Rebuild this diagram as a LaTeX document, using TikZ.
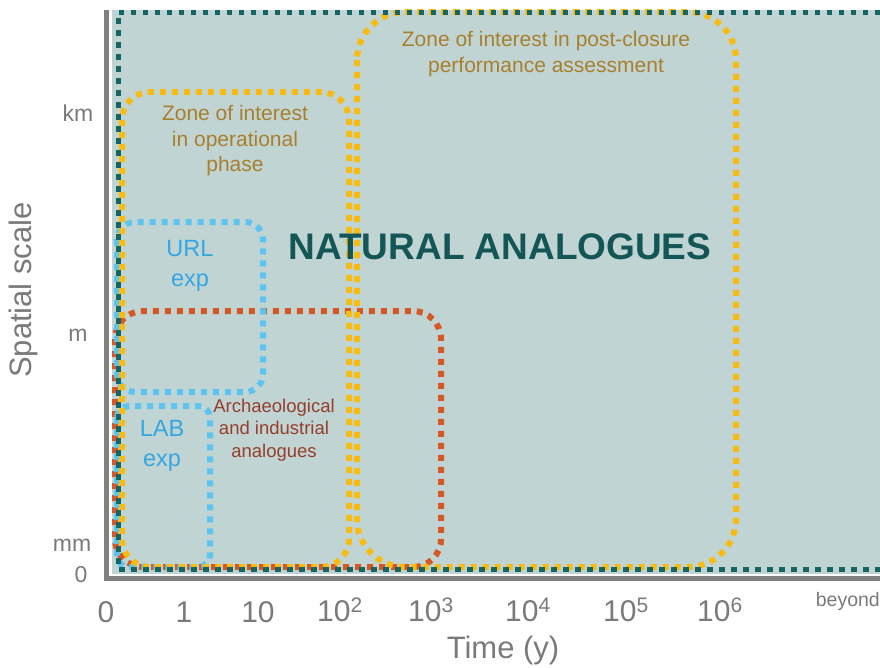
\documentclass[tikz,border=0pt]{standalone}
\usepackage{fontspec}
\setmainfont{Liberation Sans}
\usetikzlibrary{positioning}

\definecolor{tealz}{RGB}{22,101,99}
\definecolor{tealtext}{RGB}{20,86,86}
\definecolor{bgz}{RGB}{193,212,212}
\definecolor{yellowz}{RGB}{247,187,18}
\definecolor{bluez}{RGB}{92,196,240}
\definecolor{redz}{RGB}{214,86,36}
\definecolor{axisgray}{RGB}{128,128,128}
\definecolor{labelgray}{RGB}{122,122,122}
\definecolor{zonetext}{RGB}{168,128,44}
\definecolor{archtext}{RGB}{150,62,44}
\definecolor{exptext}{RGB}{52,166,226}

\begin{document}
\begin{tikzpicture}[
  x=1pt, y=-1pt,
  zone/.style={line width=6pt, dash pattern=on 6pt off 6pt, rounded corners=#1},
  zone/.default=20pt,
  axis/.style={draw=axisgray, line width=5pt},
  ticklbl/.style={text=labelgray, font=\fontsize{30}{34}\selectfont, inner sep=0pt},
  scalelbl/.style={text=labelgray, font=\fontsize{23}{26}\selectfont, inner sep=0pt},
  zonelbl/.style={text=zonetext, align=center, font=\fontsize{21}{25.5}\selectfont, inner sep=0pt},
  explbl/.style={text=exptext, align=center, font=\fontsize{23.5}{30}\selectfont, inner sep=0pt}
]
\useasboundingbox (0,0) rectangle (880,667);

% background and frame
\fill[bgz] (112,10) rectangle (880,574);
\draw[axis] (106,10) -- (106,578) -- (880,578);

% zones
\draw[zone=28pt, draw=redz] (115,311) rectangle (441,567);
\draw[zone=18pt, draw=bluez] (117,222) rectangle (263,392);
\draw[zone=12pt, draw=bluez] (117,406) rectangle (210,567);
\draw[zone=28pt, draw=yellowz] (122,92) rectangle (349,567);
\draw[zone=48pt, draw=yellowz] (357,12) rectangle (736,567);
\draw[line width=5pt, dash pattern=on 5.5pt off 6.5pt, draw=tealz]
  (880,12) -- (118,12) -- (118,569) -- (880,569);

% labels
\node[text=tealtext, font=\fontsize{37}{40}\selectfont\bfseries, inner sep=0pt] (nat) at (500,247) {NATURAL ANALOGUES};
\node[zonelbl] (post) at (546,54) {Zone of interest in post-closure\\performance assessment};
\node[zonelbl] (oper) at (235,141) {Zone of interest\\in operational\\phase};
\node[explbl] (url) at (190,266) {URL\\exp};
\node[explbl] (lab) at (162,446) {LAB\\exp};
\node[text=archtext, align=center, font=\fontsize{18.5}{22.5}\selectfont, inner sep=0pt] (arch) at (274,430) {Archaeological\\and industrial\\analogues};

% axis labels
\node[scalelbl] (km) at (78,113) {km};
\node[scalelbl] (m) at (78,335) {m};
\node[scalelbl] (mm) at (72,545) {mm};
\node[scalelbl] (zero) at (81,575) {0};
\node[text=labelgray, font=\fontsize{31}{34}\selectfont, rotate=90, inner sep=0pt] (yaxis) at (23,290) {Spatial scale};

\node[ticklbl] (t0) at (106,612) {0};
\node[ticklbl] (t1) at (184,612) {1};
\node[ticklbl] (t10) at (258,612) {10};
\node[ticklbl] (t2) at (340,610) {10\textsuperscript{2}};
\node[ticklbl] (t3) at (431,610) {10\textsuperscript{3}};
\node[ticklbl] (t4) at (528,610) {10\textsuperscript{4}};
\node[ticklbl] (t5) at (626,610) {10\textsuperscript{5}};
\node[ticklbl] (t6) at (720,610) {10\textsuperscript{6}};
\node[text=labelgray, font=\fontsize{19.5}{22}\selectfont, inner sep=0pt, anchor=east] (beyond) at (880,601) {beyond};
\node[text=labelgray, font=\fontsize{31}{34}\selectfont, inner sep=0pt] (xaxis) at (503,650) {Time (y)};
\end{tikzpicture}
\end{document}
